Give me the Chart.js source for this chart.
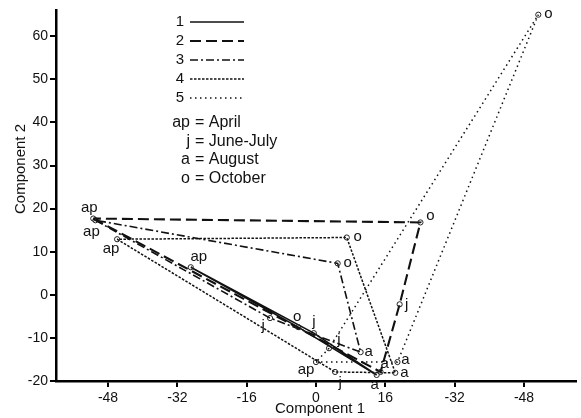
<!DOCTYPE html>
<html><head><meta charset="utf-8">
<script src="https://cdn.jsdelivr.net/npm/chart.js@4/dist/chart.umd.min.js"></script>
<style>html,body{margin:0;padding:0;background:#fff}#wrap{width:581px;height:418px}</style>
</head><body><div id="wrap"><canvas id="c" width="581" height="418"></canvas></div>
<script>
// Month codes, in the order of each series' value arrays
const monthCodes = ['ap', 'j', 'a', 'o'];
const monthNames = ['April', 'June-July', 'August', 'October'];
const seriesNames = ['1', '2', '3', '4', '5'];

// Component 1 / Component 2 values for ap, j, a, o
const s1x = [-28.9, -0.5, 14.0, -4.1];
const s1y = [6.4, -8.9, -18.6, -7.5];
const s2x = [-51.4, 19.3, 14.9, 24.1];
const s2y = [17.7, -2.2, -17.9, 16.8];
const s3x = [-50.9, -10.6, 10.3, 5.0];
const s3y = [17.3, -5.4, -13.3, 7.3];
const s4x = [-45.9, 4.4, 18.3, 7.1];
const s4y = [12.9, -17.9, -18.1, 13.3];
const s5x = [0.0, 3.0, 18.8, 51.3];
const s5y = [-15.6, -12.4, -15.6, 65.0];

// order in which the points of each series are joined (closed path)
const s1path = [0, 1, 2, 3, 0];
const s2path = [0, 2, 1, 3, 0];
const s3path = [0, 1, 2, 3, 0];
const s4path = [0, 1, 2, 3, 0];
const s5path = [0, 2, 3, 1, 0];

const xTickValues = [-48, -32, -16, 0, 16, 32, 48];
const xTickLabels = ['-48', '-32', '-16', '0', '16', '-32', '-48'];
const yTickValues = [-20, -10, 0, 10, 20, 30, 40, 50, 60];

// ---- styles (not data) ----
const dashes = [[], [11, 5], [8, 3, 2, 3], [2.5, 1.5], [1.5, 3.5]];
const widths = [1.6, 2.1, 1.6, 1.5, 1.5];
// label offsets (px) for ap, j, a, o per series
const labelOffsets = [
  [[8, -10], [0, -11], [-2, 10], [-1, -10]],
  [[-4, -11], [7, 1], [4, -8], [10, -7]],
  [[-4, 12], [-7, 8], [8, 0], [10, 0]],
  [[-6, 10], [5, 11], [9, 0], [11, -1]],
  [[-10, 8], [10, -8], [8, -2], [10, -1]]
];
const INK = '#111';
const FONT = '"Liberation Sans", Arial, sans-serif';

const allX = [s1x, s2x, s3x, s4x, s5x];
const allY = [s1y, s2y, s3y, s4y, s5y];
const allPath = [s1path, s2path, s3path, s4path, s5path];

const datasets = seriesNames.map((name, i) => ({
  label: name,
  data: allPath[i].map(k => ({ x: allX[i][k], y: allY[i][k], m: k })),
  showLine: true,
  borderColor: INK,
  borderWidth: widths[i],
  borderDash: dashes[i],
  borderCapStyle: 'butt',
  fill: false,
  tension: 0,
  pointRadius: ctx => (ctx.dataIndex === allPath[i].length - 1 ? 0 : 2.6),
  pointBorderWidth: 1,
  pointBorderColor: '#222',
  pointBackgroundColor: 'rgba(255,255,255,0)',
  pointStyle: 'circle'
}));

const overlay = {
  id: 'overlay',
  afterDraw(chart) {
    const c = chart.ctx;
    c.save();
    c.fillStyle = INK;
    // point labels
    c.font = '15px ' + FONT;
    c.textAlign = 'center';
    c.textBaseline = 'middle';
    chart.data.datasets.forEach((ds, i) => {
      const meta = chart.getDatasetMeta(i);
      ds.data.forEach((p, idx) => {
        if (idx === ds.data.length - 1) return;
        const el = meta.data[idx];
        const off = labelOffsets[i][p.m];
        c.fillText(monthCodes[p.m], el.x + off[0], el.y + off[1]);
      });
    });
    // legend: series
    const rows = [22, 41, 60, 79, 98];
    seriesNames.forEach((n, i) => {
      c.font = '15px ' + FONT;
      c.textAlign = 'center';
      c.fillText(n, 180, rows[i]);
      c.beginPath();
      c.setLineDash(dashes[i]);
      c.lineWidth = widths[i];
      c.strokeStyle = INK;
      c.moveTo(190, rows[i]);
      c.lineTo(244, rows[i]);
      c.stroke();
    });
    c.setLineDash([]);
    // legend: month key
    const keyRows = [127, 146, 164, 183];
    c.textBaseline = 'alphabetic';
    c.font = '16px ' + FONT;
    monthCodes.forEach((m, i) => {
      c.textAlign = 'right';
      c.fillText(m, 190, keyRows[i]);
      c.textAlign = 'left';
      c.fillText('= ' + monthNames[i], 195, keyRows[i]);
    });
    // axis titles
    c.font = '15px ' + FONT;
    c.textAlign = 'center';
    c.textBaseline = 'middle';
    c.fillText('Component 1', 320, 409);
    c.translate(21, 169);
    c.rotate(-Math.PI / 2);
    c.fillText('Component 2', 0, 0);
    c.restore();
  }
};

new Chart(document.getElementById('c'), {
  type: 'scatter',
  data: { datasets },
  options: {
    responsive: false,
    animation: false,
    devicePixelRatio: 1,
    layout: { padding: { top: 10, right: 0, left: 0, bottom: 0 } },
    plugins: { legend: { display: false }, tooltip: { enabled: false } },
    scales: {
      x: {
        type: 'linear', min: -60, max: 60,
        afterBuildTicks: s => { s.ticks = xTickValues.map(v => ({ value: v })); },
        afterFit: s => { s.height = 37; },
        ticks: {
          color: INK, font: { family: FONT, size: 14 }, padding: 3, maxRotation: 0,
          callback: v => xTickLabels[xTickValues.indexOf(v)]
        },
        grid: { display: true, drawOnChartArea: false, drawTicks: true, tickLength: 6, color: '#000', lineWidth: 2 },
        border: { display: true, color: '#000', width: 2.5 }
      },
      y: {
        type: 'linear', min: -20, max: 66,
        afterBuildTicks: s => { s.ticks = yTickValues.map(v => ({ value: v })); },
        afterFit: s => { s.width = 56; },
        ticks: { color: INK, font: { family: FONT, size: 14 }, padding: 2 },
        grid: { display: true, drawOnChartArea: false, drawTicks: true, tickLength: 6, color: '#000', lineWidth: 2 },
        border: { display: true, color: '#000', width: 2.5 }
      }
    }
  },
  plugins: [overlay]
});
</script>
</body></html>
